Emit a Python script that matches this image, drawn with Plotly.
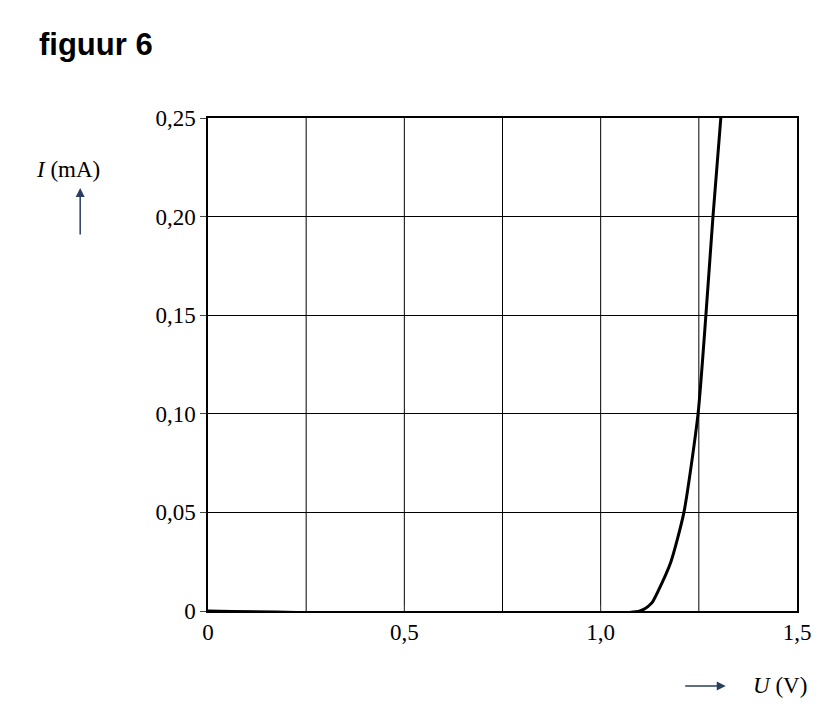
import plotly.graph_objects as go

U = [0, 1.10, 1.13, 1.146, 1.179, 1.212, 1.248, 1.268, 1.286, 1.306]
I = [0, 0, 0.004, 0.01, 0.025, 0.05, 0.10, 0.15, 0.20, 0.25]
xticks = [0, 0.5, 1.0, 1.5]
xlabels = ["0", "0,5", "1,0", "1,5"]
yticks = [0, 0.05, 0.10, 0.15, 0.20, 0.25]
ylabels = ["0", "0,05", "0,10", "0,15", "0,20", "0,25"]

tf = dict(family="Liberation Serif, Times New Roman, serif", size=23, color="black")
fig = go.Figure()
fig.add_trace(go.Scatter(x=U, y=I, mode="lines", line=dict(color="black", width=3, shape="spline", smoothing=0.6),
                         showlegend=False, hoverinfo="skip"))
fig.update_layout(
    width=838, height=717, plot_bgcolor="white", paper_bgcolor="white",
    margin=dict(l=200, r=49, t=110, b=114),
    xaxis=dict(range=[0, 1.5], tickvals=xticks, ticktext=xlabels, showgrid=False,
               showline=True, linecolor="black", linewidth=1.5, mirror=True,
               ticks="inside", ticklen=6, tickfont=tf, zeroline=False),
    yaxis=dict(range=[0, 0.25], tickvals=yticks, ticktext=ylabels, showgrid=True,
               gridcolor="black", gridwidth=1, showline=True, linecolor="black", linewidth=1.5,
               mirror=True, ticks="outside", ticklen=6, tickfont=tf, zeroline=False),
    font=tf,
)
for v in [0.25, 0.5, 0.75, 1.0, 1.25]:
    fig.add_shape(type="line", x0=v, x1=v, y0=0, y1=0.25, xref="x", yref="y",
                  line=dict(color="black", width=1), layer="below")
fig.add_annotation(text="<b>figuur 6</b>", xref="paper", yref="paper", x=-0.29, y=1.15,
                   xanchor="left", yanchor="middle", showarrow=False,
                   font=dict(family="Liberation Sans, Arial, sans-serif", size=31, color="black"))
fig.add_annotation(text="<i>I</i> (mA)", xref="paper", yref="paper", x=-0.295, y=0.895,
                   xanchor="left", yanchor="middle", showarrow=False, font=tf)
fig.add_annotation(x=-0.217, y=0.858, xref="paper", yref="paper", ax=0, ay=48, axref="pixel", ayref="pixel",
                   showarrow=True, arrowhead=2, arrowsize=1.2, arrowwidth=1.5, text="")
fig.add_annotation(text="<i>U</i> (V)", xref="paper", yref="paper", x=1.02, y=-0.152,
                   xanchor="right", yanchor="middle", showarrow=False, font=tf)
fig.add_annotation(x=0.879, y=-0.152, xref="paper", yref="paper", ax=-42, ay=0, axref="pixel", ayref="pixel",
                   showarrow=True, arrowhead=2, arrowsize=1.2, arrowwidth=1.5, text="")
fig.write_html("out.html")
